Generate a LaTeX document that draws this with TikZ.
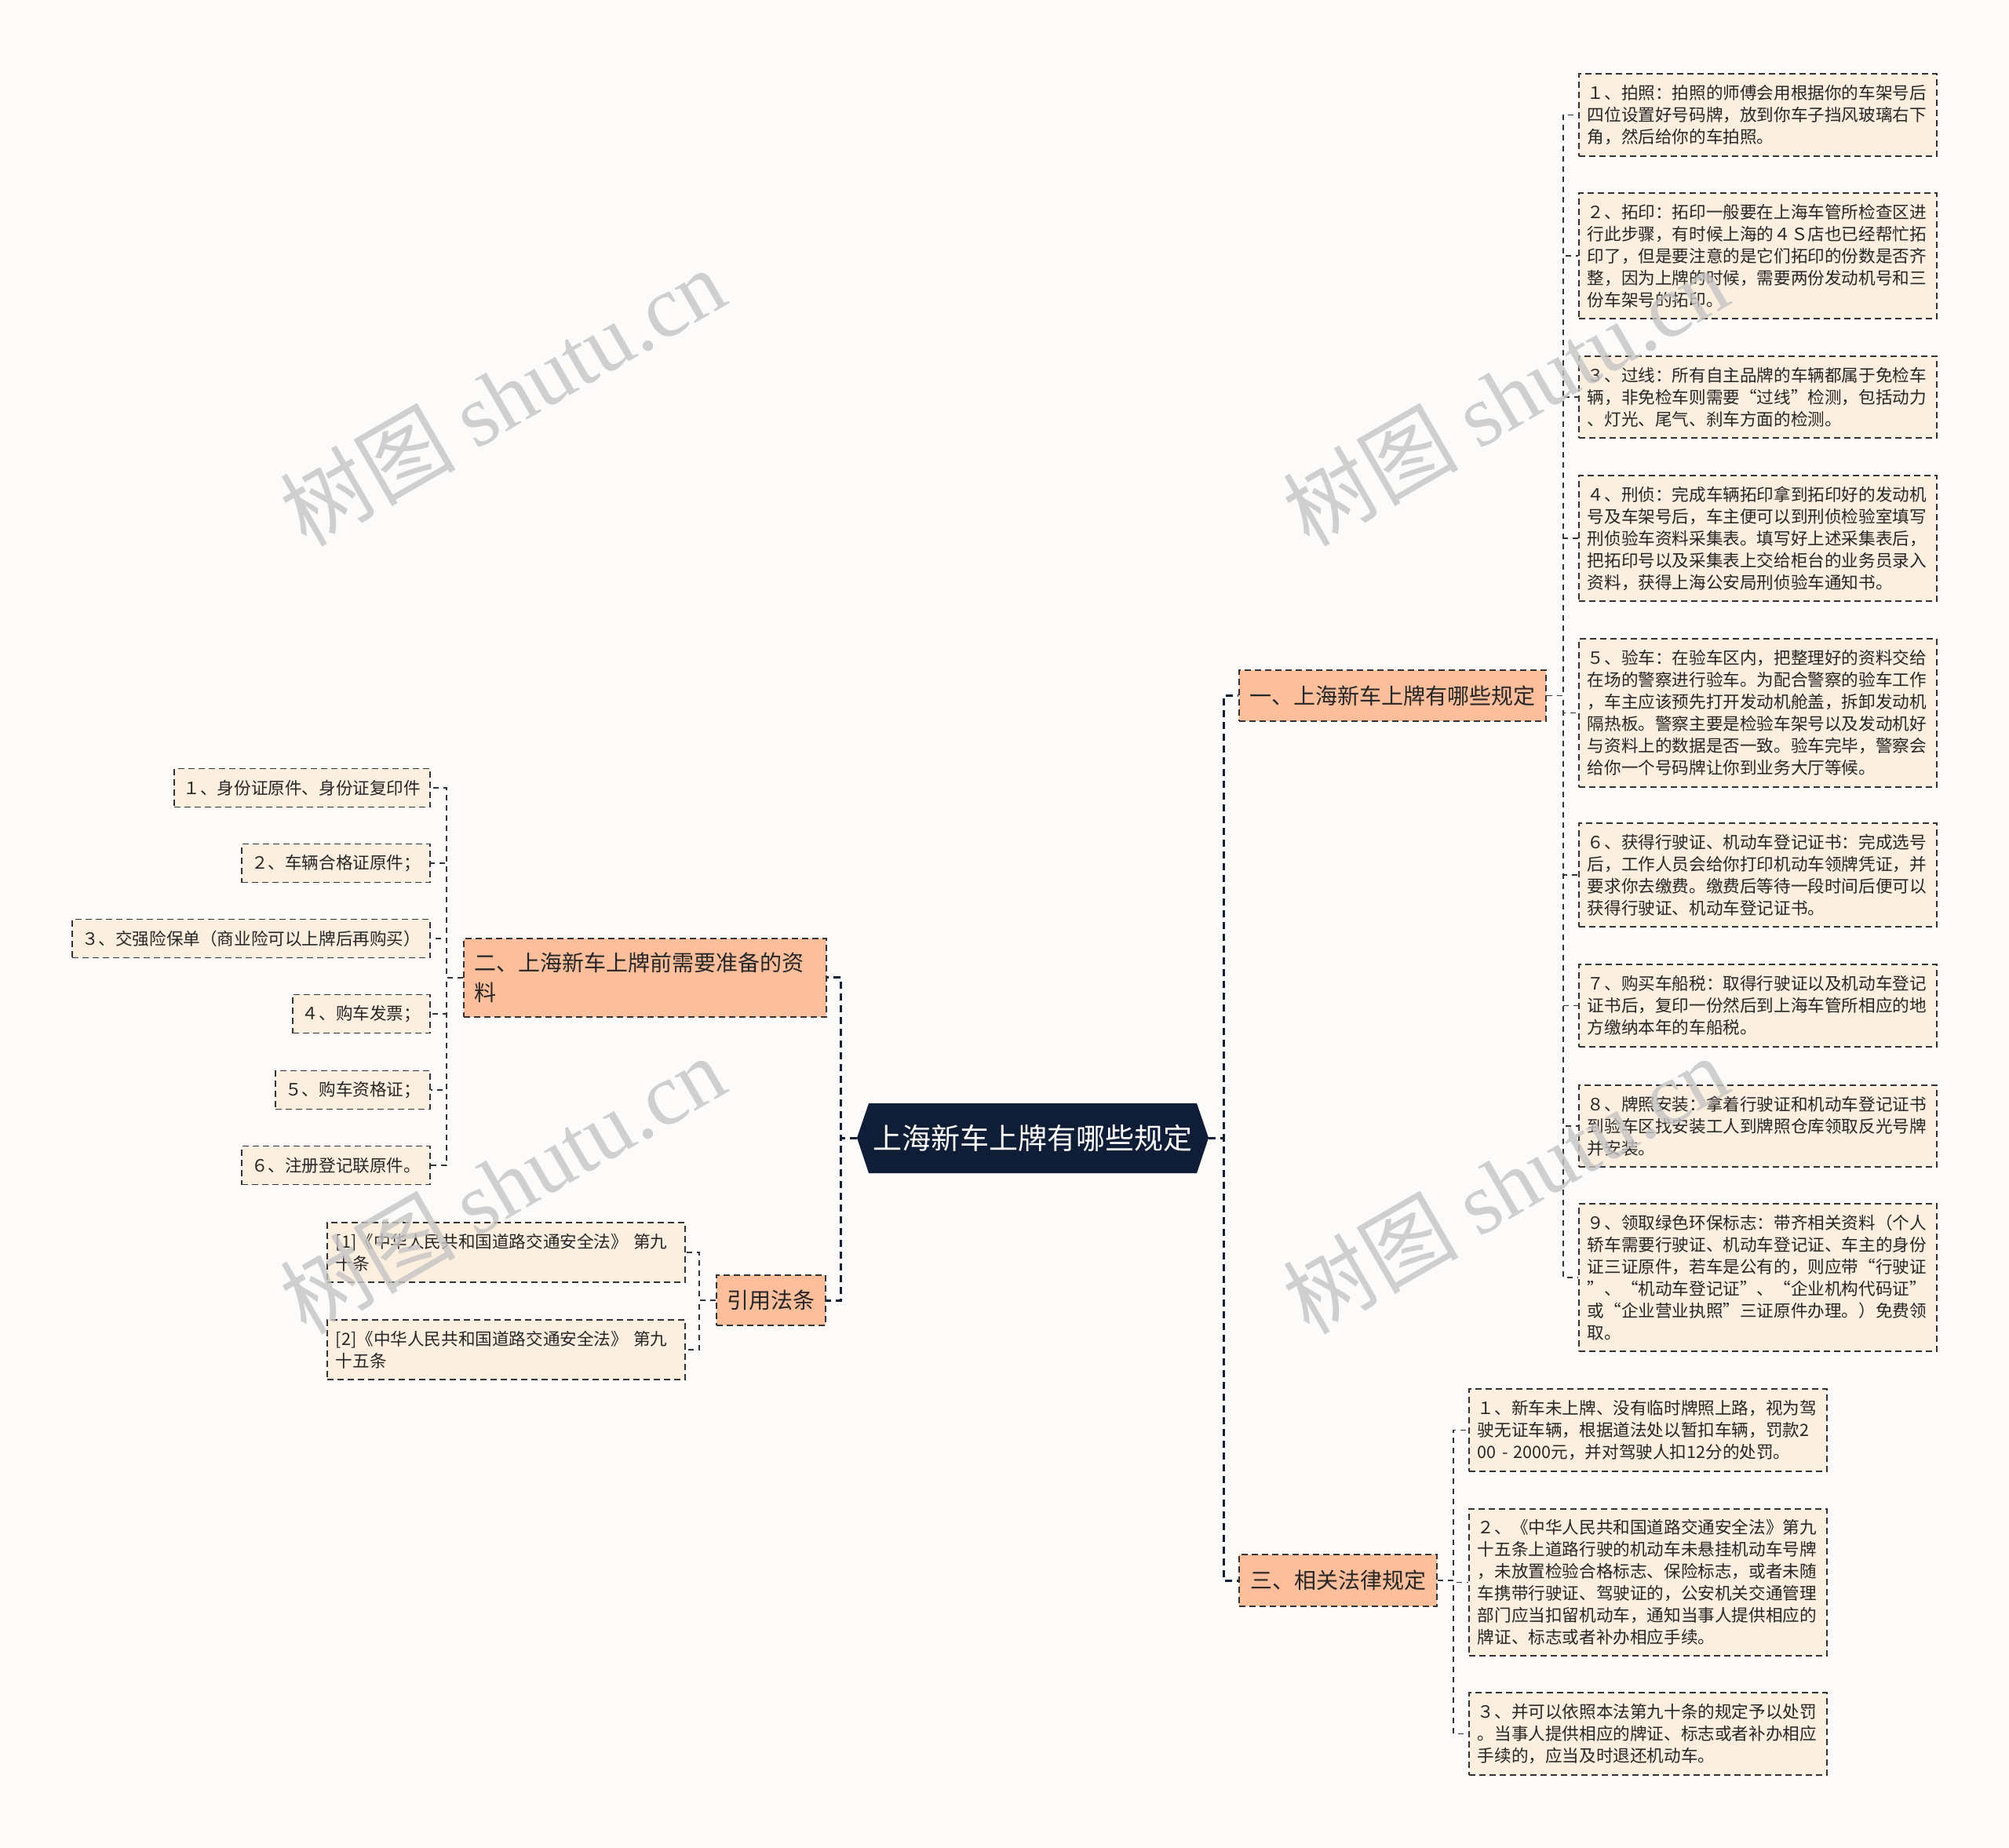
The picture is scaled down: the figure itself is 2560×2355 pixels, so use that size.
\documentclass[tikz,border=0pt]{standalone}
\usepackage{fontspec}
\setmainfont{Noto Sans CJK SC}
\newfontfamily\wmlatin{Liberation Serif}
\definecolor{rootnavy}{HTML}{0F1E36}
\definecolor{leaffill}{HTML}{FDEFE0}
\definecolor{branchfill}{HTML}{FDBE9B}
\definecolor{pagebg}{HTML}{FDFBFA}
\definecolor{linegray}{HTML}{333333}
\definecolor{wmgray}{HTML}{C4C4C4}
\begin{document}
\begin{tikzpicture}[x=1pt,y=-1pt,
  boxline/.style={draw=linegray, line width=1.8pt, dash pattern=on 8pt off 5pt},
  leaf/.style={boxline, fill=leaffill, font=\fontsize{21.6}{28}\selectfont, text=black!85, align=left, inner xsep=11pt, inner ysep=0pt},
  rleaf/.style={leaf, anchor=north west, text width=434pt, minimum width=456pt},
  lleaf/.style={leaf, anchor=east, minimum height=49pt, inner xsep=12pt},
  branch/.style={boxline, fill=branchfill, font=\fontsize{28}{38}\selectfont, text=black!85, inner sep=0pt, align=left},
  leafline/.style={draw=linegray, line width=1.6pt, dash pattern=on 7pt off 6pt},
  mainline/.style={draw=rootnavy, line width=3pt, dash pattern=on 9pt off 6pt},
  wm/.style={rotate=30, text=wmgray, opacity=0.8, font=\fontsize{112}{112}\selectfont}
]
\useasboundingbox (0,0) rectangle (2560,2355);
\fill[pagebg] (0,0) rectangle (2560,2355);

% root
\fill[rootnavy] (1092,1450) -- (1107,1406) -- (1525,1406) -- (1540,1450) -- (1525,1495) -- (1107,1495) -- cycle;
\node[font=\fontsize{37}{37}\selectfont, text=white, minimum width=448pt, minimum height=89pt, inner sep=0pt] (root) at (1316,1450) {上海新车上牌有哪些规定};

% branches
\node[branch, minimum width=391pt, minimum height=65pt] (n1) at (1774.5,886.5) {一、上海新车上牌有哪些规定};
\node[branch, anchor=north west, text width=434pt, inner xsep=14pt, minimum height=100pt] (n2) at (590,1195) {二、上海新车上牌前需要准备的资\\料};
\node[branch, minimum width=139pt, minimum height=64pt] (cite) at (982.5,1657) {引用法条};
\node[branch, minimum width=252pt, minimum height=66pt] (n3) at (1705,2014) {三、相关法律规定};

% right leaves
\node[rleaf, minimum height=105pt] (a1) at (2011,93) {１、拍照：拍照的师傅会用根据你的车架号后\\四位设置好号码牌，放到你车子挡风玻璃右下\\角，然后给你的车拍照。};
\node[rleaf, minimum height=160pt] (a2) at (2011,245) {２、拓印：拓印一般要在上海车管所检查区进\\行此步骤，有时候上海的４Ｓ店也已经帮忙拓\\印了，但是要注意的是它们拓印的份数是否齐\\整，因为上牌的时候，需要两份发动机号和三\\份车架号的拓印。};
\node[rleaf, minimum height=104pt] (a3) at (2011,453) {３、过线：所有自主品牌的车辆都属于免检车\\辆，非免检车则需要“过线”检测，包括动力\\、灯光、尾气、刹车方面的检测。};
\node[rleaf, minimum height=160pt] (a4) at (2011,605) {４、刑侦：完成车辆拓印拿到拓印好的发动机\\号及车架号后，车主便可以到刑侦检验室填写\\刑侦验车资料采集表。填写好上述采集表后，\\把拓印号以及采集表上交给柜台的业务员录入\\资料，获得上海公安局刑侦验车通知书。};
\node[rleaf, minimum height=189pt] (a5) at (2011,813) {５、验车：在验车区内，把整理好的资料交给\\在场的警察进行验车。为配合警察的验车工作\\，车主应该预先打开发动机舱盖，拆卸发动机\\隔热板。警察主要是检验车架号以及发动机好\\与资料上的数据是否一致。验车完毕，警察会\\给你一个号码牌让你到业务大厅等候。};
\node[rleaf, minimum height=132pt] (a6) at (2011,1048) {６、获得行驶证、机动车登记证书：完成选号\\后，工作人员会给你打印机动车领牌凭证，并\\要求你去缴费。缴费后等待一段时间后便可以\\获得行驶证、机动车登记证书。};
\node[rleaf, minimum height=105pt] (a7) at (2011,1228) {７、购买车船税：取得行驶证以及机动车登记\\证书后，复印一份然后到上海车管所相应的地\\方缴纳本年的车船税。};
\node[rleaf, minimum height=104pt] (a8) at (2011,1382) {８、牌照安装：拿着行驶证和机动车登记证书\\到验车区找安装工人到牌照仓库领取反光号牌\\并安装。};
\node[rleaf, minimum height=188pt] (a9) at (2011,1533) {９、领取绿色环保标志：带齐相关资料（个人\\轿车需要行驶证、机动车登记证、车主的身份\\证三证原件，若车是公有的，则应带“行驶证\\”、“机动车登记证”、“企业机构代码证”\\或“企业营业执照”三证原件办理。）免费领\\取。};

% 三 children
\node[rleaf, minimum height=105pt] (c1) at (1871,1769) {１、新车未上牌、没有临时牌照上路，视为驾\\驶无证车辆，根据道法处以暂扣车辆，罚款2\\00 - 2000元，并对驾驶人扣12分的处罚。};
\node[rleaf, minimum height=187pt] (c2) at (1871,1922) {２、《中华人民共和国道路交通安全法》第九\\十五条上道路行驶的机动车未悬挂机动车号牌\\，未放置检验合格标志、保险标志，或者未随\\车携带行驶证、驾驶证的，公安机关交通管理\\部门应当扣留机动车，通知当事人提供相应的\\牌证、标志或者补办相应手续。};
\node[rleaf, minimum height=105pt] (c3) at (1871,2156) {３、并可以依照本法第九十条的规定予以处罚\\。当事人提供相应的牌证、标志或者补办相应\\手续的，应当及时退还机动车。};

% left leaves
\node[lleaf] (b1) at (549,1004) {１、身份证原件、身份证复印件};
\node[lleaf] (b2) at (549,1100) {２、车辆合格证原件；};
\node[lleaf] (b3) at (549,1196) {３、交强险保单（商业险可以上牌后再购买）};
\node[lleaf] (b4) at (549,1292) {４、购车发票；};
\node[lleaf] (b5) at (549,1389) {５、购车资格证；};
\node[lleaf] (b6) at (549,1485) {６、注册登记联原件。};

% references
\node[rleaf, minimum height=76pt] (d1) at (416,1557) {[1]《中华人民共和国道路交通安全法》 第九\\十条};
\node[rleaf, minimum height=76pt] (d2) at (416,1681) {[2]《中华人民共和国道路交通安全法》 第九\\十五条};

% main connectors
\draw[mainline] (root.east) -- ++(19,0) |- (n1.west);
\draw[mainline] (root.east) -- ++(19,0) |- (n3.west);
\draw[mainline] (root.west) -- ++(-20,0) |- (n2.east);
\draw[mainline] (root.west) -- ++(-20,0) |- (cite.east);

% leaf connectors
\foreach \k in {a1,a2,a3,a4,a5,a6,a7,a8,a9}
  \draw[leafline] (n1.east) -- ++(21,0) |- (\k.west);
\foreach \k in {c1,c2,c3}
  \draw[leafline] (n3.east) -- ++(20,0) |- (\k.west);
\foreach \k in {b1,b2,b3,b4,b5,b6}
  \draw[leafline] (n2.west) -- ++(-21,0) |- (\k.east);
\foreach \k in {d1,d2}
  \draw[leafline] (cite.west) -- ++(-21,0) |- (\k.east);

% watermarks
\node[wm] at (640,505) {树图 {\wmlatin shutu.cn}};
\node[wm] at (1918,505) {树图 {\wmlatin shutu.cn}};
\node[wm] at (640,1509) {树图 {\wmlatin shutu.cn}};
\node[wm] at (1918,1509) {树图 {\wmlatin shutu.cn}};
\node[wm] at (640,2513) {树图 {\wmlatin shutu.cn}};
\node[wm] at (1918,2513) {树图 {\wmlatin shutu.cn}};
\end{tikzpicture}
\end{document}
